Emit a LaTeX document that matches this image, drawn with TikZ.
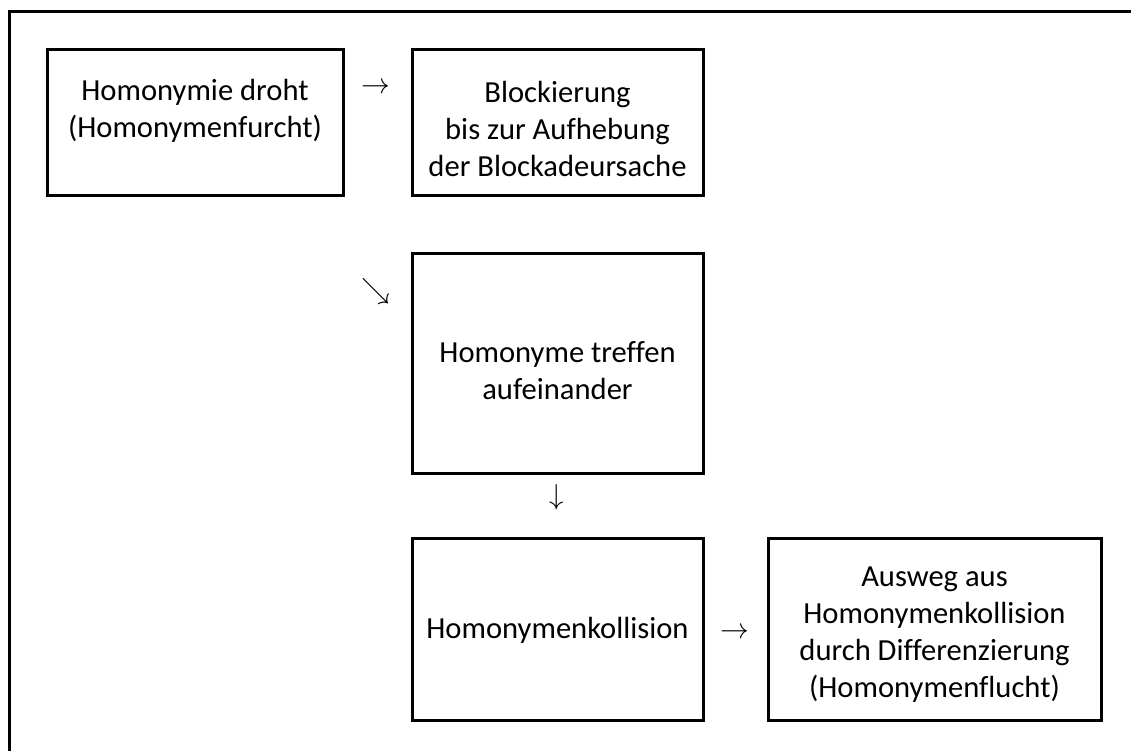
\documentclass[tikz,border=0pt]{standalone}
\usepackage{fontspec}
\setmainfont{Carlito}[Ligatures=NoCommon]
\begin{document}
\begin{tikzpicture}[x=0.5pt,y=-0.5pt,
  box/.style={draw=black,line width=1.5pt,rectangle,inner sep=0pt},
  txt/.style={align=center,font=\fontsize{15.3pt}{18.5pt}\selectfont,inner sep=0pt},
  arr/.style={font=\fontsize{15.5pt}{17pt}\selectfont,inner sep=0pt}]
\useasboundingbox (0,0) rectangle (1131,751);
% outer frame (cut at right and bottom)
\draw[line width=1.5pt] (9,751) -- (9,11) -- (1131,11);
% boxes
\node[box,minimum width=148pt,minimum height=73pt] (b1) at (195,122) {};
\node[box,minimum width=145.5pt,minimum height=73pt] (b2) at (557.5,122) {};
\node[box,minimum width=145.5pt,minimum height=110pt] (b3) at (557.5,363) {};
\node[box,minimum width=145.5pt,minimum height=91pt] (b4) at (557.5,629) {};
\node[box,minimum width=166.5pt,minimum height=91pt] (b5) at (934.5,629) {};
% texts
\node[txt] (t1) at (195,111) {Homonymie droht\\(Homonymenfurcht)};
\node[txt] (t2) at (557.5,129) {Blockierung\\bis zur Aufhebung\\der Blockadeursache};
\node[txt] (t3) at (557.5,371) {Homonyme treffen\\aufeinander};
\node[txt] (t4) at (557.5,630) {Homonymenkollision};
\node[txt] (t5) at (934.5,635) {Ausweg aus\\Homonymenkollision\\durch Differenzierung\\(Homonymenflucht)};
% arrow glyphs
\node[arr] (a1) at (376,88) {$\rightarrow$};
\node[arr] (a2) at (376,291) {$\searrow$};
\node[arr] (a3) at (557,497) {$\downarrow$};
\node[arr] (a4) at (735,633) {$\rightarrow$};
\end{tikzpicture}
\end{document}
